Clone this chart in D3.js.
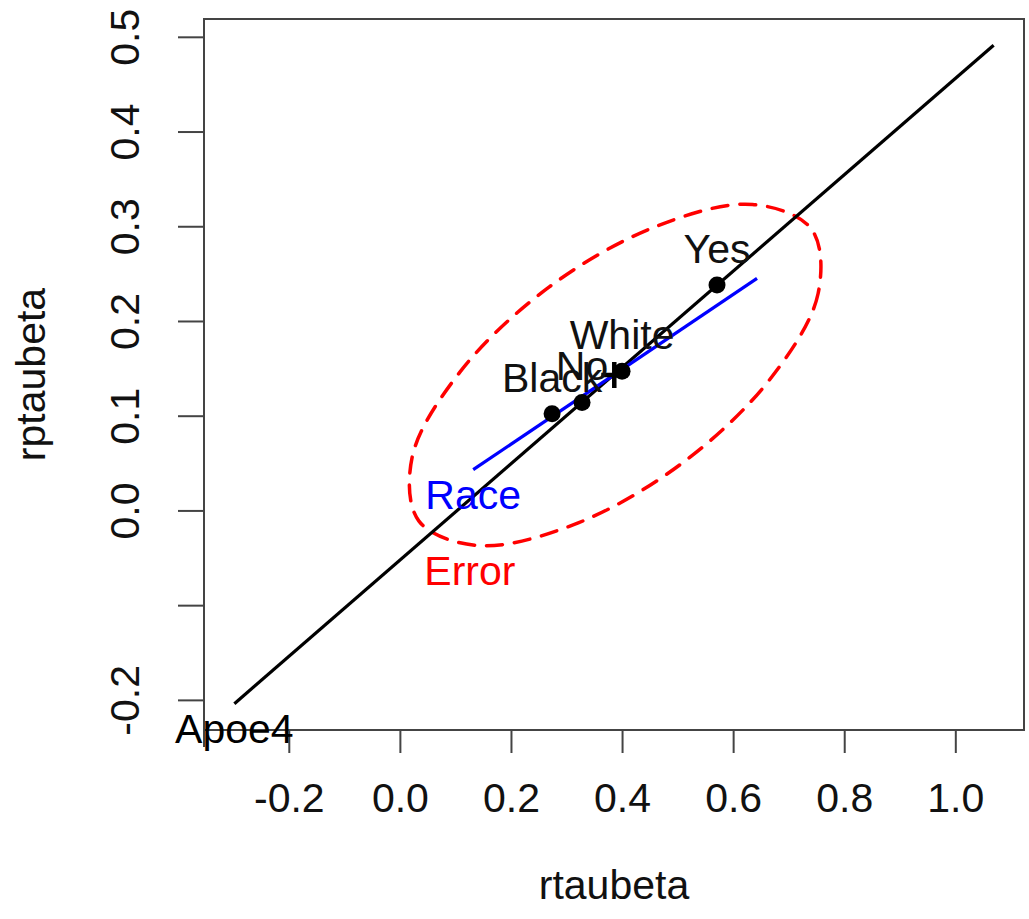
<!DOCTYPE html>
<html>
<head>
<meta charset="utf-8">
<script src="https://cdn.jsdelivr.net/npm/d3@7"></script>
<style>
  body { margin: 0; background: #fff; }
  text { font-family: "Liberation Sans", Arial, Helvetica, sans-serif; }
</style>
</head>
<body>
<div id="chart"></div>
<script>
// data
let xLim = [-0.298, 1.069];
let yLim = [-0.204, 0.491];

let xTicks = [-0.2, 0.0, 0.2, 0.4, 0.6, 0.8, 1.0];
let xTickLabels = ["-0.2", "0.0", "0.2", "0.4", "0.6", "0.8", "1.0"];
let yTicks = [-0.2, -0.1, 0.0, 0.1, 0.2, 0.3, 0.4, 0.5];
let yTickLabels = ["-0.2", "", "0.0", "0.1", "0.2", "0.3", "0.4", "0.5"];

// Apoe4 line (black) and Race line (blue)
let apoeLine = [[-0.298, -0.204], [1.069, 0.491]];
let raceLine = [[0.132, 0.043], [0.643, 0.245]];

// level points
let pointNames = ["Black", "No", "White", "Yes"];
let pointX = [0.274, 0.328, 0.400, 0.571];
let pointY = [0.102, 0.114, 0.147, 0.238];

// grand mean marker
let centre = [0.386, 0.143];

// error ellipse outline, points read round the dashed curve
let ellipseX = [0.741, 0.753, 0.667, 0.506, 0.313, 0.140, 0.034, 0.022, 0.108, 0.269, 0.462, 0.635];
let ellipseY = [0.297, 0.229, 0.139, 0.049, -0.015, -0.037, -0.011, 0.056, 0.146, 0.236, 0.300, 0.323];

// line labels
let lineLabels = [
    {text: "Apoe4", x: -0.298, y: -0.204, color: "#000"},
    {text: "Race", x: 0.132, y: 0.043, color: "#0000ff"},
    {text: "Error", x: 0.126, y: -0.038, color: "#ff0000"}
];

let margin = {top: 19, right: 5, bottom: 189, left: 204};
let W = 1029, H = 919;
let width = W - margin.left - margin.right;
let height = H - margin.top - margin.bottom;

let svg = d3.select("#chart").append("svg")
    .attr("width", W)
    .attr("height", H);

let g = svg.append("g")
    .attr("transform", "translate(" + margin.left + "," + margin.top + ")");

// R style 4% padding round the data range
let padX = (xLim[1] - xLim[0]) * 0.04;
let padY = (yLim[1] - yLim[0]) * 0.04;

let x = d3.scaleLinear()
    .domain([xLim[0] - padX, xLim[1] + padX])
    .range([0, width]);
let y = d3.scaleLinear()
    .domain([yLim[0] - padY, yLim[1] + padY])
    .range([height, 0]);

let fontSize = 41;
let axisColor = "#444";

// box
g.append("rect")
    .attr("x", 0).attr("y", 0)
    .attr("width", width).attr("height", height)
    .attr("fill", "none")
    .attr("stroke", axisColor)
    .attr("stroke-width", 2);

g.append("line")
    .attr("x1", 0).attr("x2", 0)
    .attr("y1", height).attr("y2", height + 17)
    .attr("stroke", axisColor)
    .attr("stroke-width", 2);

// x axis
let xAxis = d3.axisBottom(x)
    .tickValues(xTicks)
    .tickSize(23)
    .tickPadding(30)
    .tickFormat((d, i) => xTickLabels[i]);

let xAxisGroup = g.append("g")
    .attr("class", "x-axis")
    .attr("transform", "translate(0," + height + ")")
    .call(xAxis);
xAxisGroup.select(".domain").remove();
xAxisGroup.selectAll("line").attr("stroke", axisColor).attr("stroke-width", 2);
xAxisGroup.selectAll("text")
    .attr("font-size", fontSize)
    .attr("fill", "#111");

// y axis, labels turned like R's las=0
let yAxis = d3.axisLeft(y)
    .tickValues(yTicks)
    .tickSize(26)
    .tickFormat((d, i) => yTickLabels[i]);

let yAxisGroup = g.append("g")
    .attr("class", "y-axis")
    .call(yAxis);
yAxisGroup.select(".domain").remove();
yAxisGroup.selectAll("line").attr("stroke", axisColor).attr("stroke-width", 2);
yAxisGroup.selectAll("text")
    .attr("font-size", fontSize)
    .attr("fill", "#111")
    .attr("x", null)
    .attr("text-anchor", "middle")
    .attr("transform", "translate(-79,0) rotate(-90)")
    .attr("dy", "0.35em");

// axis titles
svg.append("text")
    .attr("x", margin.left + width / 2)
    .attr("y", 899)
    .attr("text-anchor", "middle")
    .attr("font-size", fontSize)
    .attr("fill", "#111")
    .text("rtaubeta");

svg.append("text")
    .attr("transform", "translate(45," + (margin.top + height / 2) + ") rotate(-90)")
    .attr("text-anchor", "middle")
    .attr("font-size", fontSize)
    .attr("fill", "#111")
    .text("rptaubeta");

let line = d3.line()
    .x(d => x(d[0]))
    .y(d => y(d[1]));

// ellipse
let ellipsePts = ellipseX.map((d, i) => [d, ellipseY[i]]);
g.append("path")
    .attr("d", d3.line().x(d => x(d[0])).y(d => y(d[1])).curve(d3.curveCatmullRomClosed)(ellipsePts))
    .attr("fill", "none")
    .attr("stroke", "#ff0000")
    .attr("stroke-width", 3.5)
    .attr("stroke-dasharray", "16,12")
    .attr("stroke-linecap", "round");

// apoe4 line
g.append("path")
    .attr("d", line(apoeLine))
    .attr("fill", "none")
    .attr("stroke", "#000")
    .attr("stroke-width", 3.2);

// race line
g.append("path")
    .attr("d", line(raceLine))
    .attr("fill", "none")
    .attr("stroke", "#0000ff")
    .attr("stroke-width", 3.2);

// points
g.selectAll(".pt")
    .data(pointNames)
    .enter()
    .append("circle")
    .attr("class", "pt")
    .attr("cx", (d, i) => x(pointX[i]))
    .attr("cy", (d, i) => y(pointY[i]))
    .attr("r", 8.5)
    .attr("fill", "#000");

// centre plus
let cs = 13;
g.append("path")
    .attr("d", "M" + (x(centre[0]) - cs) + "," + y(centre[1]) + "h" + (2 * cs) +
        "M" + x(centre[0]) + "," + (y(centre[1]) - cs) + "v" + (2 * cs))
    .attr("stroke", "#000")
    .attr("stroke-width", 4.5);

// point labels above
g.selectAll(".ptlab")
    .data(pointNames)
    .enter()
    .append("text")
    .attr("class", "ptlab")
    .attr("x", (d, i) => x(pointX[i]))
    .attr("y", (d, i) => y(pointY[i]) - 22)
    .attr("text-anchor", "middle")
    .attr("font-size", fontSize)
    .attr("fill", "#111")
    .text(d => d);

// line labels below
g.selectAll(".linelab")
    .data(lineLabels)
    .enter()
    .append("text")
    .attr("class", "linelab")
    .attr("x", d => x(d.x))
    .attr("y", d => y(d.y) + 39)
    .attr("text-anchor", "middle")
    .attr("font-size", fontSize)
    .attr("fill", d => d.color)
    .text(d => d.text);
</script>
</body>
</html>
